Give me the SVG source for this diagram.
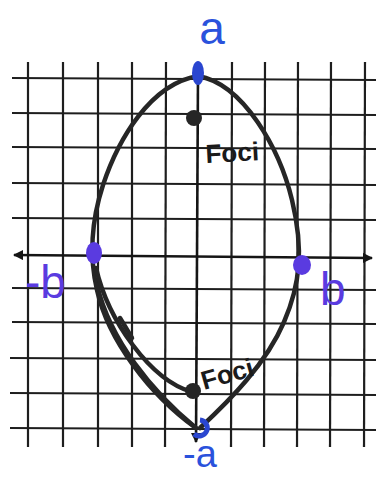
<svg xmlns="http://www.w3.org/2000/svg" width="376" height="477" viewBox="0 0 376 477">
<style>
.grid line{stroke:#1e1e1e;stroke-width:2.2}
.axis{stroke:#151515;stroke-width:2.6;fill:none}
.curve{stroke:#262626;stroke-width:4.5;fill:none;stroke-linecap:round}
.hand{font-family:"Liberation Sans","DejaVu Sans",sans-serif;fill:#1a1a1a;font-weight:bold}
.blue{font-family:"Liberation Sans","DejaVu Sans",sans-serif;fill:#2a52dc}
.purple{font-family:"Liberation Sans","DejaVu Sans",sans-serif;fill:#5a3be0}
</style>
<defs>
<marker id="arr" viewBox="0 0 10 10" refX="9" refY="5" markerWidth="4" markerHeight="4" orient="auto-start-reverse">
<path d="M0,0 L10,5 L0,10 z" fill="#151515"/>
</marker>
</defs>
<rect width="376" height="477" fill="#ffffff"/>
<g id="grid" class="grid">
<line x1="28" y1="62" x2="28" y2="447"/>
<line x1="63" y1="62" x2="63" y2="447"/>
<line x1="98" y1="62" x2="98" y2="447"/>
<line x1="132" y1="62" x2="132" y2="447"/>
<line x1="166" y1="62" x2="165" y2="447"/>
<line x1="232" y1="62" x2="231" y2="447"/>
<line x1="265" y1="62" x2="264" y2="447"/>
<line x1="298" y1="62" x2="297" y2="447"/>
<line x1="331" y1="62" x2="330" y2="447"/>
<line x1="365" y1="62" x2="364" y2="447"/>
<line x1="12" y1="78" x2="376" y2="80"/>
<line x1="12" y1="113" x2="376" y2="115"/>
<line x1="12" y1="147" x2="376" y2="149"/>
<line x1="12" y1="183" x2="376" y2="185"/>
<line x1="12" y1="218" x2="376" y2="220"/>
<line x1="12" y1="288" x2="376" y2="290"/>
<line x1="12" y1="322" x2="376" y2="324"/>
<line x1="10" y1="358" x2="376" y2="360"/>
<line x1="10" y1="393" x2="376" y2="395"/>
<line x1="10" y1="428" x2="376" y2="430"/>
</g>
<g id="axes">
<line class="axis" x1="14" y1="255" x2="372" y2="258" marker-start="url(#arr)" marker-end="url(#arr)"/>
<line class="axis" x1="198" y1="74" x2="196" y2="442" marker-end="url(#arr)"/>
</g>
<g id="ellipse">
<path class="curve" d="M198,76 C244,84 280,150 292,200 C304,250 300,285 284,322 C266,364 230,400 200,428"/>
<path class="curve" d="M198,76 C150,84 118,140 103,185 C90,225 90,260 97,290 C108,340 150,395 196,428"/>
<path class="curve" d="M97,285 C110,340 152,392 196,428" stroke-width="3.5"/>
<path class="curve" d="M96,268 C108,320 150,380 192,392" stroke-width="4"/>
<path class="curve" d="M120,318 L132,338" stroke-width="3"/>
</g>
<g id="focus-top">
<circle cx="194" cy="118" r="8" fill="#262626"/>
<text class="hand" x="206" y="163" font-size="26" transform="rotate(-3 206 163)">Foci</text>
</g>
<g id="focus-bottom">
<circle cx="193" cy="391" r="8" fill="#262626"/>
<text class="hand" x="204" y="390" font-size="26" transform="rotate(-16 204 390)">Foci</text>
</g>
<g id="vertex-top">
<ellipse cx="198" cy="73" rx="6" ry="12" fill="#2a46d0"/>
<text class="blue" x="212" y="44" font-size="46" text-anchor="middle">a</text>
</g>
<g id="vertex-bottom">
<path d="M200,420 A8,8 0 1 1 194,434" fill="none" stroke="#2a46d0" stroke-width="5"/>
<text class="blue" x="183" y="467" font-size="38">-a</text>
</g>
<g id="covertex-left">
<ellipse cx="94" cy="253" rx="8" ry="11" fill="#5a3be0"/>
<text class="purple" x="25" y="298" font-size="46">-b</text>
</g>
<g id="covertex-right">
<ellipse cx="302" cy="265" rx="9" ry="10" fill="#5a3be0"/>
<text class="purple" x="320" y="305" font-size="46">b</text>
</g>
</svg>
